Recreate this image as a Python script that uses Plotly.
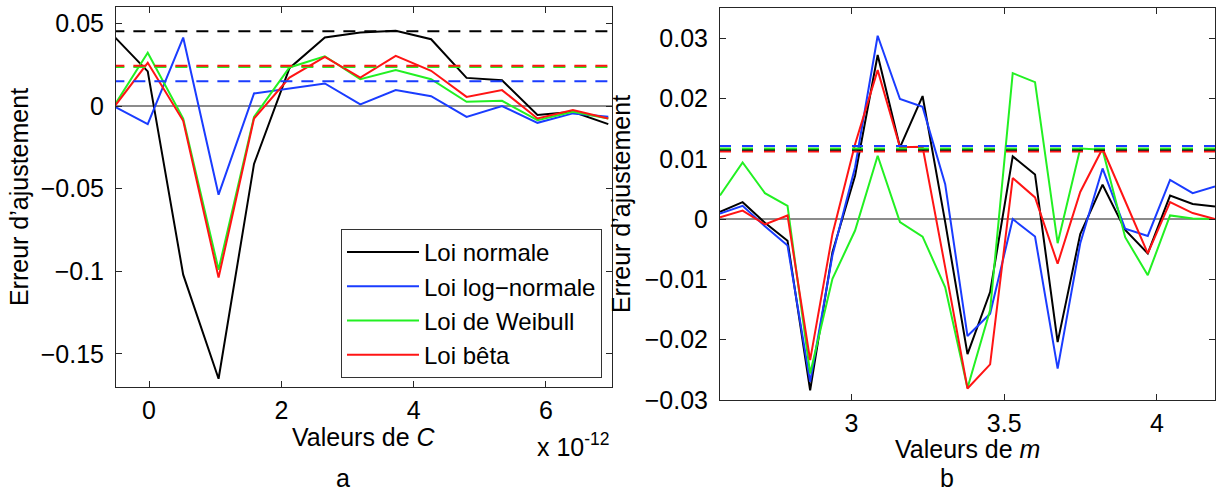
import plotly.graph_objects as go

# ---------------- data ----------------
# Panel a : x in units of 1e-12
C_vals = [-0.555, -0.02, 0.516, 1.051, 1.587, 2.123, 2.658, 3.194, 3.730,
          4.265, 4.801, 5.337, 5.873, 6.408, 6.944]
normale_a = [0.0433, 0.021, -0.102, -0.165, -0.035, 0.023, 0.0415, 0.0446, 0.0456,
             0.0405, 0.0171, 0.0157, -0.0054, -0.0034, -0.0109]
lognormale_a = [0.0004, -0.0109, 0.0415, -0.0536, 0.0077, 0.0107, 0.0137, 0.001, 0.0097,
                0.006, -0.0065, 0.0, -0.0101, -0.0044, -0.0065]
weibull_a = [-0.0015, 0.0323, -0.0075, -0.099, -0.0065, 0.0234, 0.0302, 0.0163, 0.0218,
             0.0163, 0.0026, 0.0032, -0.0085, -0.0034, -0.0075]
beta_a = [-0.0019, 0.0262, -0.0089, -0.1038, -0.0075, 0.0173, 0.0298, 0.0173, 0.0304,
          0.0214, 0.0056, 0.0097, -0.0075, -0.0024, -0.0075]
levels_a = [0.0453, 0.0151, 0.0237, 0.0245]   # dashed reference levels (normale, log, weibull, beta)

# Panel b
m_vals = [2.570, 2.644, 2.717, 2.791, 2.865, 2.938, 3.012, 3.086, 3.159, 3.233, 3.307,
          3.380, 3.454, 3.528, 3.601, 3.675, 3.749, 3.822, 3.896, 3.970, 4.043, 4.117, 4.190]
normale_b = [0.0012, 0.0028, -0.0006, -0.0036, -0.0284, -0.0055, 0.0072, 0.0272, 0.0119,
             0.0204, -0.0005, -0.0224, -0.0121, 0.0104, 0.0074, -0.0204, -0.0025, 0.0057,
             -0.0018, -0.0057, 0.0039, 0.0025, 0.0021]
lognormale_b = [0.0009, 0.0022, -0.0012, -0.0044, -0.027, -0.006, 0.0086, 0.0304, 0.0199,
                0.0186, 0.0058, -0.0194, -0.0157, 0.0, -0.0029, -0.0248, -0.004, 0.0084,
                -0.0016, -0.0028, 0.0065, 0.0043, 0.0054]
weibull_b = [0.0039, 0.0094, 0.0043, 0.0022, -0.0256, -0.0099, -0.0019, 0.0105, -0.0005,
             -0.0029, -0.0113, -0.028, -0.0151, 0.0242, 0.0227, -0.004, 0.0117, 0.0115,
             -0.003, -0.0093, 0.0006, 0.0001, 0.0]
beta_b = [0.0003, 0.0014, -0.0009, 0.0006, -0.0234, -0.0025, 0.0124, 0.0247, 0.0119,
          0.012, -0.008, -0.0281, -0.0241, 0.0068, 0.0036, -0.0074, 0.0045, 0.0117,
          0.003, -0.0057, 0.0028, 0.001, 0.0]
levels_b = [0.0115, 0.0121, 0.0117, 0.0112]

names = ["Loi normale", "Loi log\u2212normale", "Loi de Weibull", "Loi bêta"]
colors = ["#000000", "#1a3cff", "#22f022", "#ff1414"]

yticks_a = [-0.15, -0.1, -0.05, 0, 0.05]
yticks_a_txt = ["\u22120.15", "\u22120.1", "\u22120.05", "0", "0.05"]
xticks_a = [0, 2, 4, 6]
yticks_b = [-0.03, -0.02, -0.01, 0, 0.01, 0.02, 0.03]
yticks_b_txt = ["\u22120.03", "\u22120.02", "\u22120.01", "0", "0.01", "0.02", "0.03"]
xticks_b = [3, 3.5, 4]

W, H = 1218, 493
FONT = "Liberation Sans, Arial, Helvetica, sans-serif"
FS = 25

fig = go.Figure()

series_a = [normale_a, lognormale_a, weibull_a, beta_a]
series_b = [normale_b, lognormale_b, weibull_b, beta_b]

for k in range(4):
    fig.add_trace(go.Scatter(x=C_vals, y=series_a[k], mode="lines", name=names[k],
                             line=dict(color=colors[k], width=2), xaxis="x", yaxis="y",
                             showlegend=True, legendrank=k))
for k in range(4):
    fig.add_trace(go.Scatter(x=[C_vals[0], C_vals[-1] + 0.06], y=[levels_a[k]] * 2, mode="lines",
                             line=dict(color=colors[k], width=2, dash="12px,9px"),
                             xaxis="x", yaxis="y", showlegend=False, hoverinfo="skip"))
for k in range(4):
    fig.add_trace(go.Scatter(x=m_vals, y=series_b[k], mode="lines", name=names[k],
                             line=dict(color=colors[k], width=2), xaxis="x2", yaxis="y2",
                             showlegend=False))
order_b = [3, 0, 2, 1]
for k in order_b:
    fig.add_trace(go.Scatter(x=[m_vals[0], m_vals[-1]], y=[levels_b[k]] * 2, mode="lines",
                             line=dict(color=colors[k], width=2, dash="11px,11px"),
                             xaxis="x2", yaxis="y2", showlegend=False, hoverinfo="skip"))

axis_common = dict(showline=True, linecolor="#262626", linewidth=1, mirror="ticks",
                   ticks="inside", ticklen=6, tickcolor="#262626", showgrid=False,
                   tickfont=dict(family=FONT, size=FS, color="#000"),
                   automargin=False)

txt_font = dict(family=FONT, size=FS, color="#000")

fig.update_layout(
    width=W, height=H, autosize=False,
    margin=dict(l=0, r=0, t=0, b=0, autoexpand=False),
    paper_bgcolor="white", plot_bgcolor="white",
    font=dict(family=FONT, size=FS, color="#000"),
    xaxis=dict(domain=[116 / W, 612 / W], range=[-0.5, 7], tickvals=xticks_a,
               zeroline=False, anchor="y", ticklabelstandoff=1, **axis_common),
    yaxis=dict(domain=[(H - 387) / H, (H - 7) / H], range=[-0.17, 0.06],
               tickvals=yticks_a, ticktext=yticks_a_txt, anchor="x",
               zeroline=True, zerolinecolor="#8c8c8c", zerolinewidth=1.5, ticklabelstandoff=6,
               title=dict(text="Erreur d\u2019ajustement", standoff=4, font=txt_font),
               **axis_common),
    xaxis2=dict(domain=[720 / W, 1215 / W], range=[2.57, 4.19], tickvals=xticks_b,
                zeroline=False, anchor="y2", ticklabelstandoff=1, **axis_common),
    yaxis2=dict(domain=[(H - 400) / H, (H - 8) / H], range=[-0.03, 0.035],
                tickvals=yticks_b, ticktext=yticks_b_txt, anchor="x2",
                zeroline=True, zerolinecolor="#8c8c8c", zerolinewidth=1.5, ticklabelstandoff=6,
                title=dict(text="Erreur d\u2019ajustement", standoff=6, font=txt_font),
                **axis_common),
    legend=dict(x=602 / W, xanchor="right", y=(H - 378) / H, yanchor="bottom",
                bgcolor="white", bordercolor="#333", borderwidth=1,
                font=dict(family=FONT, size=24, color="#000"),
                tracegroupgap=0, itemwidth=72, traceorder="normal"),
    annotations=[
        dict(text="Valeurs de <i>C</i>", xref="paper", yref="paper", x=364 / W, y=(H - 437) / H,
             xanchor="center", yanchor="middle", showarrow=False, font=txt_font),
        dict(text="Valeurs de <i>m</i>", xref="paper", yref="paper", x=967 / W, y=(H - 449) / H,
             xanchor="center", yanchor="middle", showarrow=False, font=txt_font),
        dict(text="x 10<sup>-12</sup>", xref="paper", yref="paper", x=612 / W, y=(H - 445) / H,
             xanchor="right", yanchor="middle", showarrow=False, font=txt_font),
        dict(text="a", xref="paper", yref="paper", x=343 / W, y=(H - 478) / H,
             xanchor="center", yanchor="middle", showarrow=False, font=txt_font),
        dict(text="b", xref="paper", yref="paper", x=947 / W, y=(H - 478) / H,
             xanchor="center", yanchor="middle", showarrow=False, font=txt_font),
    ],
)

fig.write_html("out.html", config={"displayModeBar": False},
               post_script="document.body.style.margin='0px';document.body.style.padding='0px';")
